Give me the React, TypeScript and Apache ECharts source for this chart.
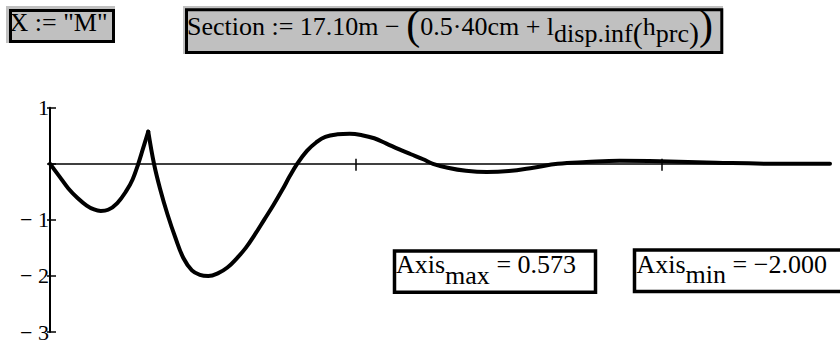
import { useEffect, useRef } from 'react';
import * as echarts from 'echarts';

// ---- data ----
const X_MIN = 0;
const X_MAX = 12.75;
const X_TICKS = [5, 10];
const Y_MIN = -3;
const Y_MAX = 1;
const Y_TICKS = [-3, -2, -1, 0, 1];
const Y_LABELS = ['\u2212 3', '\u2212 2', '\u2212 1', '', '1'];

// first arch (up to the cusp)
const SEG1_X = [0, 0.15, 0.3, 0.45, 0.6, 0.72, 0.83, 0.95, 1.1, 1.25, 1.35, 1.443, 1.52, 1.606];
const SEG1_Y = [0, -0.22, -0.44, -0.61, -0.745, -0.815, -0.84, -0.82, -0.7, -0.48, -0.28, 0, 0.27, 0.573];
// rest of the curve (from the cusp)
const SEG2_X = [1.606, 1.7, 1.8, 1.92, 2.05, 2.18, 2.32, 2.45, 2.587, 2.75, 2.9, 3.05, 3.2, 3.35, 3.5, 3.65, 3.8, 3.92, 4.04, 4.2, 4.35, 4.5, 4.7, 4.9, 5.1, 5.3, 5.5, 5.7, 5.9, 6.1, 6.26, 6.5, 6.8, 7.14, 7.5, 7.9, 8.3, 8.77, 9.31, 9.97, 10.89, 11.98, 12.75];
const SEG2_Y = [0.573, 0, -0.45, -0.9, -1.32, -1.68, -1.9, -1.98, -2.0, -1.95, -1.85, -1.69, -1.5, -1.26, -1.0, -0.74, -0.46, -0.22, 0, 0.23, 0.38, 0.48, 0.525, 0.535, 0.51, 0.455, 0.36, 0.26, 0.17, 0.08, 0, -0.07, -0.125, -0.148, -0.13, -0.07, 0, 0.03, 0.053, 0.045, 0.018, 0, 0];

const X_DEF = 'X := "M"';
const SECTION_MAIN = 'Section := 17.10m \u2212 ';
const SECTION_INNER = '0.5\u00b740cm + l';
const SECTION_SUB1 = 'disp.inf';
const SECTION_H = 'h';
const SECTION_SUB2 = 'prc';
const AXIS_MAX_VAL = '0.573';
const AXIS_MIN_VAL = '\u22122.000';

const FONT = 'Liberation Serif';

export default function App() {
  const ref = useRef<HTMLDivElement>(null);
  useEffect(() => {
    if (!ref.current) return;
    const chart = echarts.init(ref.current, undefined, { renderer: 'svg' });
    const seg1 = SEG1_X.map((x, i) => [x, SEG1_Y[i]]);
    const seg2 = SEG2_X.map((x, i) => [x, SEG2_Y[i]]);
    const lineStyle = { color: '#000', width: 4, cap: 'round', join: 'round' };
    const xBase = {
      type: 'value',
      min: X_MIN,
      max: X_MAX,
      interval: 5,
      position: 'bottom',
      splitLine: { show: false },
      axisLabel: { show: false },
    };
    const yBase = {
      type: 'value',
      min: Y_MIN,
      max: Y_MAX,
      interval: 1,
      position: 'left',
      splitLine: { show: false },
    };
    const option: any = {
      animation: false,
      backgroundColor: '#fff',
      textStyle: { fontFamily: FONT },
      grid: { left: 50, right: 10, top: 107.7, bottom: 13, containLabel: false, outerBoundsMode: 'none' },
      xAxis: [
        {
          ...xBase,
          axisLine: { show: true, onZero: true, onZeroAxisIndex: 0, lineStyle: { color: '#000', width: 1.5 } },
          axisTick: { show: true, inside: false, length: 7, customValues: X_TICKS, lineStyle: { color: '#000', width: 1.5 } },
        },
        {
          ...xBase,
          axisLine: { show: false, onZero: true, onZeroAxisIndex: 0 },
          axisTick: { show: true, inside: true, length: 5, customValues: X_TICKS, lineStyle: { color: '#000', width: 1.5 } },
        },
      ],
      yAxis: [
        {
          ...yBase,
          axisLine: { show: true, onZero: true, onZeroAxisIndex: 0, lineStyle: { color: '#000', width: 2 } },
          axisTick: { show: true, inside: false, length: 3, lineStyle: { color: '#000', width: 1.5 } },
          axisLabel: {
            show: true,
            margin: 1,
            color: '#000',
            fontFamily: FONT,
            fontSize: 22,
            padding: [8, 0, 0, 0],
            formatter: (v: number) => {
              const i = Y_TICKS.indexOf(Math.round(v));
              return i >= 0 ? Y_LABELS[i] : '';
            },
          },
        },
        {
          ...yBase,
          axisLine: { show: false, onZero: true, onZeroAxisIndex: 0 },
          axisTick: { show: true, inside: true, length: 6, lineStyle: { color: '#000', width: 1.5 } },
          axisLabel: { show: false },
        },
      ],
      series: [
        { type: 'line', xAxisIndex: 0, yAxisIndex: 0, data: seg1, smooth: 0.4, symbol: 'none', lineStyle },
        { type: 'line', xAxisIndex: 0, yAxisIndex: 0, data: seg2, smooth: 0.4, symbol: 'none', lineStyle },
      ],
      graphic: [
        { type: 'rect', z: 10, shape: { x: 6, y: 6, width: 109, height: 37 }, style: { fill: '#c0c0c0' } },
        { type: 'rect', z: 11, shape: { x: 10.5, y: 10.5, width: 103, height: 31 }, style: { fill: 'none', stroke: '#000', lineWidth: 3 } },
        {
          type: 'text', z: 12, x: 9.5, y: 22.9,
          style: { text: X_DEF, fontFamily: FONT, fontSize: 26, fill: '#000', align: 'left', verticalAlign: 'middle' },
        },
        { type: 'rect', z: 10, shape: { x: 183, y: 6, width: 540, height: 48 }, style: { fill: '#c0c0c0' } },
        { type: 'rect', z: 11, shape: { x: 186.5, y: 9.8, width: 535.3, height: 42.7 }, style: { fill: 'none', stroke: '#000', lineWidth: 3 } },
        {
          type: 'text', z: 12, x: 187, y: 26.2,
          style: {
            text: `{n|${SECTION_MAIN}}{bp|(}{n|${SECTION_INNER}}{s|${SECTION_SUB1}}{mp|(}{n|${SECTION_H}}{s|${SECTION_SUB2}}{mp|)}{bp|)}`,
            fontFamily: FONT, fontSize: 26, fill: '#000', align: 'left', verticalAlign: 'middle',
            rich: {
              n: { fontFamily: FONT, fontSize: 26, fill: '#000' },
              s: { fontFamily: FONT, fontSize: 26, fill: '#000', padding: [15, 0, 0, 0] },
              mp: { fontFamily: FONT, fontSize: 30, fill: '#000', padding: [12, 0, 0, 0] },
              bp: { fontFamily: FONT, fontSize: 42, fill: '#000', padding: [0, 0, 3, 0] },
            },
          },
        },
        { type: 'rect', z: 10, shape: { x: 394.5, y: 251, width: 201, height: 41.2 }, style: { fill: '#fff', stroke: '#000', lineWidth: 3.5 } },
        {
          type: 'text', z: 12, x: 396, y: 264.5,
          style: {
            text: `{n|Axis}{s|max}{n| = ${AXIS_MAX_VAL}}`,
            fontFamily: FONT, fontSize: 26, fill: '#000', align: 'left', verticalAlign: 'middle',
            rich: {
              n: { fontFamily: FONT, fontSize: 26, fill: '#000' },
              s: { fontFamily: FONT, fontSize: 26, fill: '#000', padding: [21, 0, 0, 0] },
            },
          },
        },
        { type: 'rect', z: 10, shape: { x: 634.5, y: 250, width: 230, height: 41.5 }, style: { fill: '#fff', stroke: '#000', lineWidth: 3.5 } },
        {
          type: 'text', z: 12, x: 636.5, y: 264.2,
          style: {
            text: `{n|Axis}{s|min}{n| = ${AXIS_MIN_VAL}}`,
            fontFamily: FONT, fontSize: 26, fill: '#000', align: 'left', verticalAlign: 'middle',
            rich: {
              n: { fontFamily: FONT, fontSize: 26, fill: '#000' },
              s: { fontFamily: FONT, fontSize: 26, fill: '#000', padding: [20, 0, 0, 0] },
            },
          },
        },
      ],
    };
    chart.setOption(option);
    return () => chart.dispose();
  }, []);
  return (
    <div
      ref={ref}
      style={{ position: 'absolute', left: 0, top: 0, width: 840, height: 345, background: '#fff' }}
    />
  );
}
